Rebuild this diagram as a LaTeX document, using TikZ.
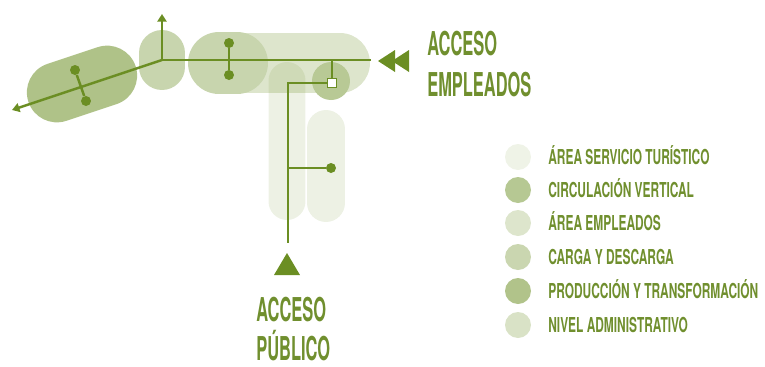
\documentclass[tikz,border=0pt]{standalone}
\usepackage{fontspec}
\usepackage{tikz}
\usetikzlibrary{shapes.misc, arrows.meta}
\newfontfamily\fuenterotulo{TeX Gyre Heros}[FakeStretch=0.5]
\newfontfamily\fuenteley{TeX Gyre Heros}[FakeStretch=0.58]
\definecolor{verde}{RGB}{107,142,35}
\definecolor{textoverde}{RGB}{112,143,46}
\tikzset{
    capsula/.style = {rounded rectangle, draw = none, inner sep = 0},
    punto/.style = {circle, fill = verde, inner sep = 0, minimum size = 0.2cm},
    eje/.style = {verde, line width = 1.4pt},
    rotulo/.style = {text = textoverde, inner sep = 0, anchor = base west, font = \fuenterotulo\bfseries\fontsize{18.7}{20}\selectfont},
    ley/.style = {circle, inner sep = 0, minimum size = 0.52cm},
    leytexto/.style = {text = textoverde, inner sep = 0, anchor = base west, font = \fuenteley\bfseries\fontsize{11.7}{13}\selectfont}
}

\begin{document}
\begin{tikzpicture}[x = 0.02cm, y = -0.02cm]
            \useasboundingbox (0, 0) rectangle (765, 366);
            
            \node[capsula, fill = verde!23!white, minimum width = 3.4cm, minimum height = 1.2cm] (empleados) at (285, 63) {};
            \node[capsula, fill = verde!54!white, minimum width = 2.26cm, minimum height = 1.2cm, rotate = 18.4] (produccion) at (82, 84) {};
            \node[capsula, fill = verde!37!white, minimum width = 1.2cm, minimum height = 0.92cm, rotate = 90] (carga1) at (162, 60) {};
            \node[capsula, fill = verde!37!white, minimum width = 1.6cm, minimum height = 1.24cm] (carga2) at (228, 63) {};
            \node[capsula, fill = verde, fill opacity = 0.12, minimum width = 3.16cm, minimum height = 0.74cm, rotate = 90] (servicio1) at (287, 141) {};
            \node[capsula, fill = verde, fill opacity = 0.12, minimum width = 2.24cm, minimum height = 0.76cm, rotate = 90] (servicio2) at (326, 166) {};
            \node[circle, fill = verde!48!white, inner sep = 0, minimum size = 0.76cm] (circulacion) at (331, 81) {};
            
            \coordinate (cruce) at (162, 60);
            \coordinate (fin) at (371, 60);
            \coordinate (arriba) at (162, 14);
            \coordinate (abajo) at (12, 110);
            \draw[eje](cruce) -- (fin);
            \draw[eje, -{Triangle[length = 0.15cm, width = 0.18cm]}](cruce) -- (arriba);
            \draw[eje, -{Triangle[length = 0.15cm, width = 0.18cm]}](cruce) -- (abajo);
            
            \node[punto] (p1) at (75, 70) {};
            \node[punto] (p2) at (86, 101) {};
            \draw[eje](p1) -- (p2);
            \node[punto] (p3) at (229, 43) {};
            \node[punto] (p4) at (229, 75) {};
            \draw[eje](p3) -- (p4);
            
            \node[draw = verde, fill = white, line width = 1pt, inner sep = 0, minimum size = 0.18cm] (ascensor) at (332, 83) {};
            \coordinate (bajada) at (332, 60);
            \coordinate (esquina) at (288, 83);
            \coordinate (rama) at (288, 168);
            \coordinate (pie) at (288, 243);
            \draw[eje](bajada) -- (ascensor);
            \draw[eje](ascensor) -- (esquina) -- (pie);
            \node[punto] (p5) at (331, 168) {};
            \draw[eje](rama) -- (p5);
            
            \fill[verde](378, 61) -- (395, 50) -- (395, 72) -- cycle;
            \fill[verde](392, 61) -- (409, 50) -- (409, 72) -- cycle;
            \fill[verde](287, 253) -- (300, 275) -- (274, 275) -- cycle;
            
            \node[rotulo] (acceso1) at (427, 55) {ACCESO};
            \node[rotulo] (empleados1) at (427, 96) {EMPLEADOS};
            \node[rotulo] (acceso2) at (256, 321) {ACCESO};
            \node[rotulo] (publico) at (256, 360) {PÚBLICO};
            
            \node[ley, fill = verde!11!white] (ley1) at (518, 157) {};
            \node[leytexto] (texto1) at (548, 164.5) {ÁREA SERVICIO TURÍSTICO};
            \node[ley, fill = verde!49!white] (ley2) at (518, 190) {};
            \node[leytexto] (texto2) at (548, 197.5) {CIRCULACIÓN VERTICAL};
            \node[ley, fill = verde!23!white] (ley3) at (518, 223) {};
            \node[leytexto] (texto3) at (548, 230.5) {ÁREA EMPLEADOS};
            \node[ley, fill = verde!36!white] (ley4) at (518, 257) {};
            \node[leytexto] (texto4) at (548, 264.5) {CARGA Y DESCARGA};
            \node[ley, fill = verde!53!white] (ley5) at (518, 291) {};
            \node[leytexto] (texto5) at (548, 298.5) {PRODUCCIÓN Y TRANSFORMACIÓN};
            \node[ley, fill = verde!26!white] (ley6) at (518, 325) {};
            \node[leytexto] (texto6) at (548, 332.5) {NIVEL ADMINISTRATIVO};
            
        \end{tikzpicture}
\end{document}
